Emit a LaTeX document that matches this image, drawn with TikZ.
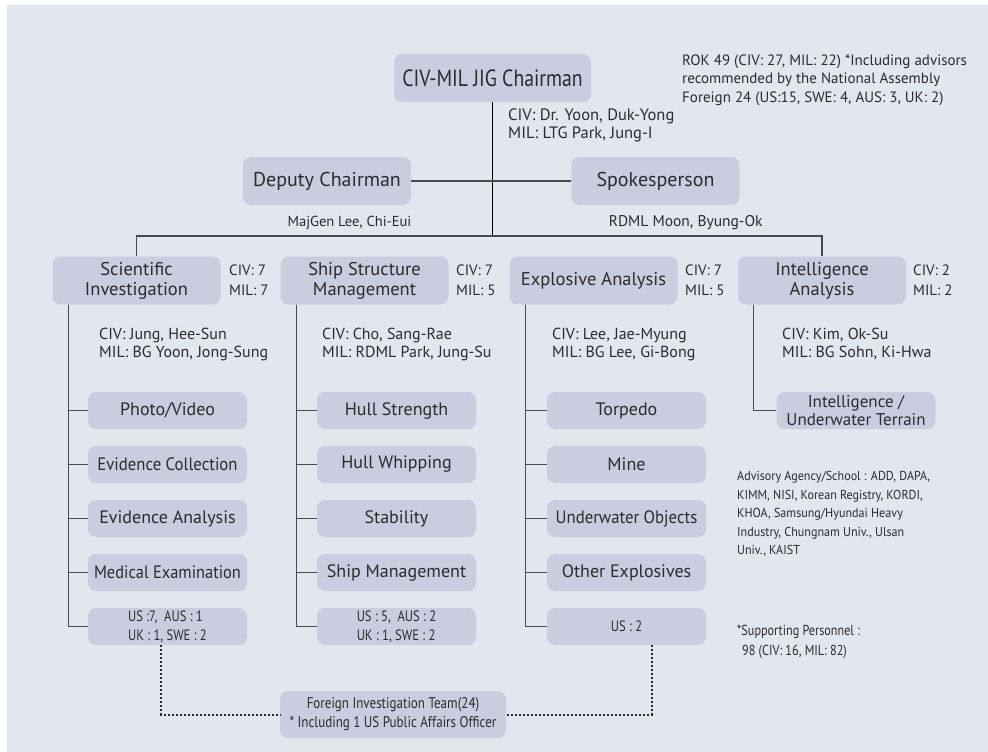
\documentclass[tikz,border=0pt]{standalone}
\usepackage{fontspec}
\setmainfont{PT Sans}
\newfontfamily\cond{PT Sans}[FakeStretch=0.84]
\newfontfamily\semicond{PT Sans}[FakeStretch=0.91]
\newfontfamily\narr{PT Sans}[FakeStretch=0.93]
\definecolor{panel}{HTML}{E2E6EF}
\definecolor{boxc}{HTML}{CACDDF}
\definecolor{txt}{HTML}{2B2B2E}
\definecolor{linec}{HTML}{4A4A4C}
\begin{document}
\begin{tikzpicture}[x=1pt,y=-1pt,
  box/.style={fill=boxc, rounded corners=8pt, inner sep=0pt, text=txt, align=center},
  big/.style={box, minimum width=168pt, minimum height=48pt, font=\fontsize{18.5}{20}\selectfont},
  sub/.style={box, minimum width=159pt, minimum height=37pt, font=\fontsize{18}{20}\selectfont},
  note/.style={anchor=west, inner sep=0pt, text=txt, align=left, font=\fontsize{16}{18}\selectfont},
  cnote/.style={inner sep=0pt, text=txt, align=center, font=\fontsize{14.5}{18}\selectfont},
  ln/.style={draw=linec, line width=1.3pt},
  dotl/.style={draw=txt, line width=2pt, dash pattern=on 2pt off 2pt}]
\useasboundingbox (0,0) rectangle (988,752);
\fill[white] (0,0) rectangle (988,752);
\fill[panel] (7,5) rectangle (988,752);

% top level
\node[box, minimum width=197pt, minimum height=48pt, font=\cond\fontsize{23.5}{24}\selectfont] (chair) at (492.5,78) {CIV-MIL JIG Chairman};
\node[big, font=\fontsize{20}{22}\selectfont] (deputy) at (327,181) {Deputy Chairman};
\node[big, font=\fontsize{20}{22}\selectfont] (spokes) at (655.5,181) {Spokesperson};

\node[big] (sci) at (136.5,280.5) {Scientific\\Investigation};
\node[big] (ship) at (364.5,280.5) {Ship Structure\\Management};
\node[big] (expl) at (593.5,280.5) {Explosive Analysis};
\node[big] (intel) at (822,280.5) {Intelligence\\Analysis};

% column 1
\node[sub] (a1) at (167.5,410.5) {Photo/Video};
\node[sub] (a2) at (167.5,464.5) {\narr Evidence Collection};
\node[sub] (a3) at (167.5,518.5) {Evidence Analysis};
\node[sub] (a4) at (167.5,572.5) {\semicond Medical Examination};
\node[sub, font=\cond\fontsize{15}{19}\selectfont, align=left] (u1) at (167.5,626.5) {US :7,\ \ AUS : 1\\UK : 1, SWE : 2};
% column 2
\node[sub] (b1) at (396.5,410.5) {Hull Strength};
\node[sub] (b2) at (396.5,464.5) {Hull Whipping};
\node[sub] (b3) at (396.5,518.5) {Stability};
\node[sub] (b4) at (396.5,572.5) {Ship Management};
\node[sub, font=\cond\fontsize{15}{19}\selectfont, align=left] (u2) at (396.5,626.5) {US : 5,\ \ AUS : 2\\UK : 1, SWE : 2};
% column 3
\node[sub] (c1) at (626.5,410.5) {Torpedo};
\node[sub] (c2) at (626.5,464.5) {Mine};
\node[sub] (c3) at (626.5,518.5) {\narr Underwater Objects};
\node[sub] (c4) at (626.5,572.5) {Other Explosives};
\node[sub, font=\cond\fontsize{15}{19}\selectfont] (u3) at (626.5,626.5) {US : 2};
% column 4
\node[sub, font=\fontsize{17}{18}\selectfont] (d1) at (856,410.5) {Intelligence /\\Underwater Terrain};

% foreign team
\node[box, minimum width=226pt, minimum height=47pt, font=\cond\fontsize{15.5}{19}\selectfont] (foreign) at (393,714.5) {Foreign Investigation Team(24)\\* Including 1 US Public Affairs Officer};

% connectors
\coordinate (busM) at (492.5,236);
\draw[draw=black, line width=1pt] (chair.south) -- (busM);
\draw[ln] (deputy.east) -- (spokes.west);
\draw[ln] (sci.north) |- (busM) -| (intel.north);

\coordinate (s1) at ([xshift=16pt]sci.south west);
\coordinate (s2) at ([xshift=16pt]ship.south west);
\coordinate (s3) at ([xshift=16pt]expl.south west);
\coordinate (s4) at ([xshift=16pt]intel.south west);
\foreach \n in {a1,a2,a3,a4,u1} \draw[ln] (s1) |- (\n.west);
\foreach \n in {b1,b2,b3,b4,u2} \draw[ln] (s2) |- (\n.west);
\foreach \n in {c1,c2,c3,c4,u3} \draw[ln] (s3) |- (\n.west);
\draw[ln] (s4) |- (d1.west);

\coordinate (p1) at ([xshift=-6.5pt]u1.south);
\coordinate (p2) at ([xshift=25.5pt]u3.south);
\draw[dotl] (p1) |- (foreign.west);
\draw[dotl] (p2) |- (foreign.east);

% notes
\node[note, font=\fontsize{16.5}{18}\selectfont] (n0) at (508,125) {CIV: Dr. Yoon, Duk-Yong\\MIL: LTG Park, Jung-I};
\node[cnote] (n1) at (349.5,223) {MajGen Lee, Chi-Eui};
\node[cnote, font=\fontsize{15.5}{18}\selectfont] (n2) at (685.7,223) {RDML Moon, Byung-Ok};
\node[note, font=\fontsize{15}{20}\selectfont] (k1) at (229,280.5) {CIV: 7\\MIL: 7};
\node[note, font=\fontsize{15}{20}\selectfont] (k2) at (456,280.5) {CIV: 7\\MIL: 5};
\node[note, font=\fontsize{15}{20}\selectfont] (k3) at (685,280.5) {CIV: 7\\MIL: 5};
\node[note, font=\fontsize{15}{20}\selectfont] (k4) at (913,280.5) {CIV: 2\\MIL: 2};
\node[note] (m1) at (99,344) {CIV: Jung, Hee-Sun\\MIL: BG Yoon, Jong-Sung};
\node[note] (m2) at (322,344) {CIV: Cho, Sang-Rae\\MIL: RDML Park, Jung-Su};
\node[note] (m3) at (552,344) {CIV: Lee, Jae-Myung\\MIL: BG Lee, Gi-Bong};
\node[note] (m4) at (782,344) {CIV: Kim, Ok-Su\\MIL: BG Sohn, Ki-Hwa};
\node[note, font=\fontsize{15}{18.3}\selectfont] (tr) at (682,80) {ROK 49 (CIV: 27, MIL: 22) *Including advisors\\recommended by the National Assembly\\Foreign 24 (US:15, SWE: 4, AUS: 3, UK: 2)};
\node[note, font=\narr\fontsize{13}{18.5}\selectfont] (adv) at (737,514) {Advisory Agency/School : ADD, DAPA,\\KIMM, NISI, Korean Registry, KORDI,\\KHOA, Samsung/Hyundai Heavy\\Industry, Chungnam Univ., Ulsan\\Univ., KAIST};
\node[note, font=\cond\fontsize{14.5}{20}\selectfont] (sup) at (737,642) {*Supporting Personnel :\\\hspace{5pt}98 (CIV: 16, MIL: 82)};
\end{tikzpicture}
\end{document}
